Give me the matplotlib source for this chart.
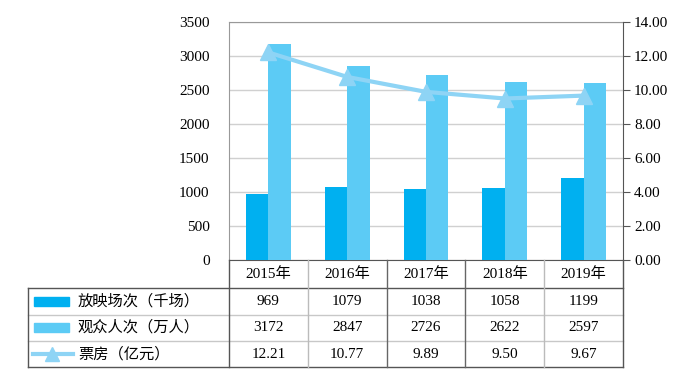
import matplotlib.pyplot as plt
import numpy as np
from matplotlib.lines import Line2D
from matplotlib.patches import Rectangle

plt.rcParams['font.family'] = ['Liberation Serif', 'Noto Sans CJK SC']

years = ['2015年', '2016年', '2017年', '2018年', '2019年']
screenings = [969, 1079, 1038, 1058, 1199]
audience = [3172, 2847, 2726, 2622, 2597]
box_office = [12.21, 10.77, 9.89, 9.50, 9.67]
box_labels = ['12.21', '10.77', '9.89', '9.50', '9.67']
series_names = ['放映场次（千场）', '观众人次（万人）', '票房（亿元）']

c_dark = '#00B0F0'
c_light = '#5CCBF5'
c_line = '#8ED4F5'

W, H = 700, 374
fig = plt.figure(figsize=(7, 3.74), dpi=100)

def fx(px):
    return px / W

def fy(py):
    return 1 - py / H

left, right, top, bottom = 229, 623, 22, 260
ax = fig.add_axes([fx(left), fy(bottom), fx(right) - fx(left), fy(top) - fy(bottom)])

x = np.arange(len(years))
bw = 0.285
ax.bar(x - bw / 2, screenings, bw, color=c_dark, zorder=3)
ax.bar(x + bw / 2, audience, bw, color=c_light, zorder=3)
ax.set_xlim(-0.5, len(years) - 0.5)
ax.set_ylim(0, 3500)
ax.set_yticks(np.arange(0, 3501, 500))
ax.set_xticks([])
ax.grid(axis='y', color='#d0d0d0', linewidth=1, zorder=0)
ax.tick_params(axis='y', length=0, labelsize=11, pad=14)
for s in ['top', 'left']:
    ax.spines[s].set_color('#999999')
ax.spines['bottom'].set_color('#555555')
ax.spines['right'].set_visible(False)

ax2 = ax.twinx()
ax2.plot(x, box_office, color=c_line, linewidth=3, marker='^', markersize=11,
         markeredgecolor=c_line, zorder=4)
ax2.set_ylim(0, 14)
ax2.set_yticks(np.arange(0, 14.01, 2))
ax2.set_yticklabels([f'{v:.2f}' for v in np.arange(0, 14.01, 2)])
ax2.tick_params(axis='y', length=5, direction='out', labelsize=11, color='#555555', pad=3)
ax2.spines['right'].set_color('#555555')
for s in ['top', 'left', 'bottom']:
    ax2.spines[s].set_visible(False)

# data table below the axes
rows_y = [260, 288, 314.5, 341, 367]
tab_left = 28
col_w = (right - left) / len(years)
cols_x = [left + i * col_w for i in range(len(years) + 1)]

def hline(x0, x1, y, color, lw=1):
    fig.add_artist(Line2D([fx(x0), fx(x1)], [fy(y), fy(y)], color=color, linewidth=lw))

def vline(xp, y0, y1, color, lw=1):
    fig.add_artist(Line2D([fx(xp), fx(xp)], [fy(y0), fy(y1)], color=color, linewidth=lw))

hline(tab_left, right, rows_y[1], '#555555')
hline(tab_left, right, rows_y[2], '#c8c8c8')
hline(tab_left, right, rows_y[3], '#c8c8c8')
hline(tab_left, right, rows_y[4], '#555555')
vline(tab_left, rows_y[1], rows_y[4], '#555555')
vline(left, rows_y[0], rows_y[4], '#555555')
vline(right, rows_y[0], rows_y[4], '#555555')
inner_colors = ['#bbbbbb', '#666666', '#666666', '#bbbbbb']
for i in range(1, len(years)):
    vline(cols_x[i], rows_y[0], rows_y[4], inner_colors[i - 1])

for i, yr in enumerate(years):
    cx = (cols_x[i] + cols_x[i + 1]) / 2
    fig.text(fx(cx), fy((rows_y[0] + rows_y[1]) / 2), yr, ha='center', va='center', fontsize=11)
    for r, vals in enumerate([screenings, audience, box_labels]):
        fig.text(fx(cx), fy((rows_y[r + 1] + rows_y[r + 2]) / 2), str(vals[i]),
                 ha='center', va='center', fontsize=11)

# legend keys in the table
for r, name in enumerate(series_names):
    cy = (rows_y[r + 1] + rows_y[r + 2]) / 2
    if r < 2:
        fig.add_artist(Rectangle((fx(34), fy(cy + 4.5)), fx(69) - fx(34), 9 / H,
                                 color=[c_dark, c_light][r], transform=fig.transFigure))
    else:
        fig.add_artist(Line2D([fx(33), fx(73)], [fy(cy), fy(cy)], color=c_line, linewidth=3))
        fig.add_artist(Line2D([fx(52)], [fy(cy)], color=c_line, marker='^', markersize=10))
    fig.text(fx(78), fy(cy), name, ha='left', va='center', fontsize=11)

fig.savefig('out.png', dpi=100)
